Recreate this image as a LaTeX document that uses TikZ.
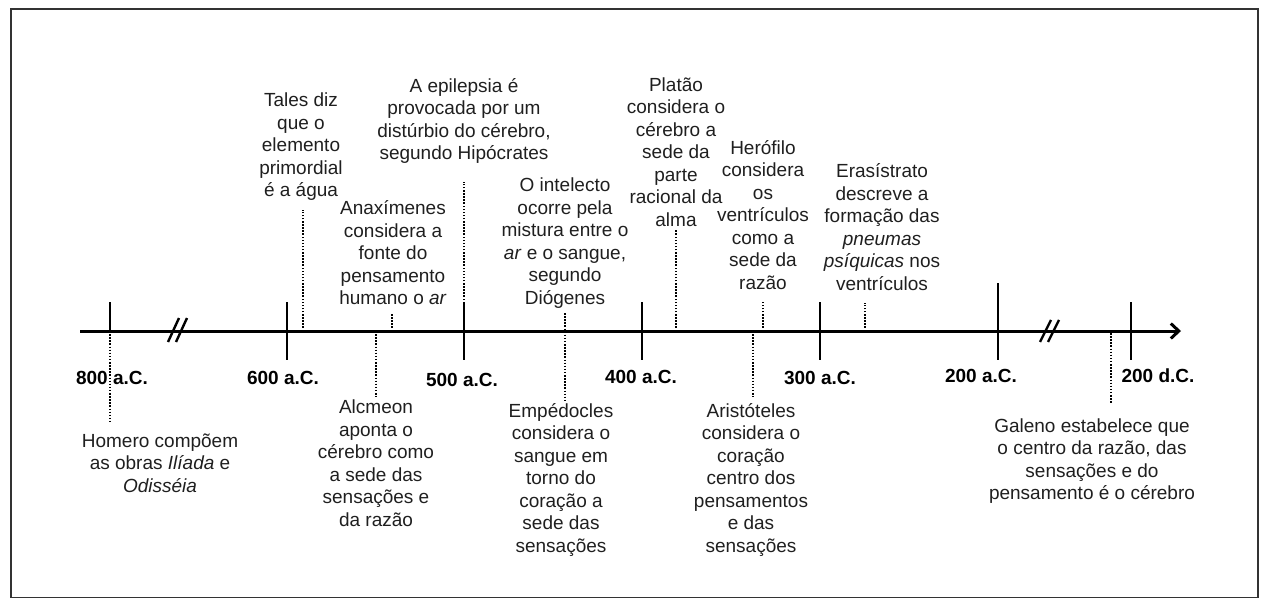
\documentclass[tikz,border=0pt]{standalone}
\usepackage{fontspec}
\setmainfont{Liberation Sans}
\usetikzlibrary{arrows.meta}
\tikzset{
  txt/.style={align=center, inner sep=0pt, font=\fontsize{19}{22.5}\selectfont, text=black!88},
  yearlbl/.style={inner sep=0pt, font=\fontsize{19}{22.5}\selectfont\bfseries},
  dotline/.style={line width=2.3pt, dash pattern=on 1.5pt off 1.6pt},
  tickline/.style={line width=2.6pt},
  breakline/.style={line width=2.4pt},
  axisline/.style={line width=3pt, -{Straight Barb[length=8pt,width=15pt,line width=3pt]}},
  framebox/.style={line width=1.4pt, draw=black!80}
}
\begin{document}
\begin{tikzpicture}[x=1pt,y=-1pt]
\useasboundingbox (0,0) rectangle (1263,597);
\draw[framebox] (11,9) rectangle (1258,598);

% axis
\coordinate (axstart) at (80,331);
\coordinate (axend) at (1181,331);
\draw[axisline] (axstart) -- (axend);

% break marks
\coordinate (b1a) at (168,342); \coordinate (b1b) at (179,318);
\coordinate (b2a) at (176,342); \coordinate (b2b) at (187,318);
\coordinate (b3a) at (1040,342); \coordinate (b3b) at (1051,320);
\coordinate (b4a) at (1048,342); \coordinate (b4b) at (1059,320);
\draw[breakline] (b1a) -- (b1b);
\draw[breakline] (b2a) -- (b2b);
\draw[breakline] (b3a) -- (b3b);
\draw[breakline] (b4a) -- (b4b);

% ticks
\coordinate (t800) at (110,331);
\coordinate (t600) at (287,331);
\coordinate (t500) at (464,331);
\coordinate (t400) at (642,331);
\coordinate (t300) at (820,331);
\coordinate (t200a) at (998,331);
\coordinate (t200d) at (1131,331);
\draw[tickline] (t800) -- ++(0,-29);
\draw[tickline] (t600) ++(0,-29) -- ++(0,58);
\draw[tickline] (t500) ++(0,-29) -- ++(0,58);
\draw[tickline] (t400) ++(0,-29) -- ++(0,58);
\draw[tickline] (t300) ++(0,-29) -- ++(0,58);
\draw[tickline] (t200a) ++(0,-48) -- ++(0,77);
\draw[tickline] (t200d) ++(0,-29) -- ++(0,58);

% year labels
\node[yearlbl] (l800) at (112,378) {800 a.C.};
\node[yearlbl] (l600) at (283,378) {600 a.C.};
\node[yearlbl] (l500) at (462,380) {500 a.C.};
\node[yearlbl] (l400) at (641,377) {400 a.C.};
\node[yearlbl] (l300) at (820,378) {300 a.C.};
\node[yearlbl] (l200a) at (981,376) {200 a.C.};
\node[yearlbl] (l200d) at (1158,376) {200 d.C.};

% events above
\node[txt] (tales) at (301,147) {Tales diz\\que o\\elemento\\primordial\\é a água};
\node[txt] (epil) at (464,121) {A epilepsia é\\provocada por um\\distúrbio do cérebro,\\segundo Hipócrates};
\node[txt] (anax) at (393,253) {Anaxímenes\\considera a\\fonte do\\pensamento\\humano o \textit{ar}};
\node[txt] (intel) at (565,243) {O intelecto\\ocorre pela\\mistura entre o\\\textit{ar} e o sangue,\\segundo\\Diógenes};
\node[txt] (platao) at (676,152) {Platão\\considera o\\cérebro a\\sede da\\parte\\racional da\\alma};
\node[txt] (herof) at (763,215) {Herófilo\\considera\\os\\ventrículos\\como a\\sede da\\razão};
\node[txt] (erasi) at (882,227) {Erasístrato\\descreve a\\formação das\\\textit{pneumas}\\\textit{psíquicas} nos\\ventrículos};

% events below
\node[txt] (homero) at (160,463) {Homero compõem\\as obras \textit{Ilíada} e\\\textit{Odisséia}};
\node[txt] (alcm) at (376,463) {Alcmeon\\aponta o\\cérebro como\\a sede das\\sensações e\\da razão};
\node[txt] (emped) at (561,480) {Empédocles\\considera o\\sangue em\\torno do\\coração a\\sede das\\sensações};
\node[txt] (arist) at (751,480) {Aristóteles\\considera o\\coração\\centro dos\\pensamentos\\e das\\sensações};
\node[txt] (galeno) at (1092,461) {Galeno estabelece que\\o centro da razão, das\\sensações e do\\pensamento é o cérebro};

% dotted connectors
\coordinate (homA) at (110,331); \coordinate (homB) at (110,422);
\coordinate (talA) at (303,331); \coordinate (talB) at (303,210);
\coordinate (alcA) at (376,331); \coordinate (alcB) at (376,397);
\coordinate (anaA) at (392,331); \coordinate (anaB) at (392,313);
\coordinate (epiA) at (464,331); \coordinate (epiB) at (464,182);
\coordinate (dioB) at (565,313); \coordinate (empB) at (565,402);
\coordinate (plaA) at (676,331); \coordinate (plaB) at (676,230);
\coordinate (ariA) at (753,331); \coordinate (ariB) at (753,397);
\coordinate (herA) at (763,331); \coordinate (herB) at (763,300);
\coordinate (eraA) at (865,331); \coordinate (eraB) at (865,303);
\coordinate (galA) at (1111,333); \coordinate (galB) at (1111,403);
\draw[dotline] (homA) -- (homB);
\draw[dotline] (talA) -- (talB);
\draw[dotline] (alcA) -- (alcB);
\draw[dotline] (anaA) -- (anaB);
\draw[dotline] (epiA) -- (epiB);
\draw[dotline] (dioB) -- (empB);
\draw[dotline] (plaA) -- (plaB);
\draw[dotline] (ariA) -- (ariB);
\draw[dotline] (herA) -- (herB);
\draw[dotline] (eraA) -- (eraB);
\draw[dotline] (galA) -- (galB);
\end{tikzpicture}
\end{document}
